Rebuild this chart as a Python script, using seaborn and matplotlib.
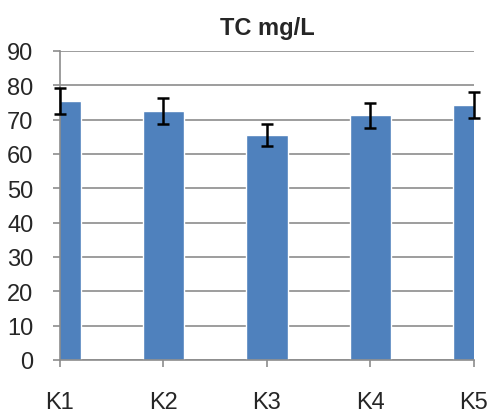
import pandas as pd
import matplotlib.pyplot as plt
import seaborn as sns

# data
groups = ['K1', 'K2', 'K3', 'K4', 'K5']
tc_mean = [75.5, 72.4, 65.5, 71.3, 74.4]
tc_err = [3.8, 3.8, 3.2, 3.6, 3.8]
y_ticks = [0, 10, 20, 30, 40, 50, 60, 70, 80, 90]

df = pd.DataFrame({'group': groups, 'tc': tc_mean, 'err': tc_err})

sns.set_theme(style="white")
plt.rcParams['font.family'] = ['Liberation Sans Narrow', 'Liberation Sans', 'DejaVu Sans']

fig = plt.figure(figsize=(4.89, 4.14), dpi=100)
ax = fig.add_axes([60 / 489, 1 - 361 / 414, 414 / 489, 309 / 414])

sns.barplot(data=df, x='group', y='tc', color='#4F81BD', width=0.4,
            saturation=1, errorbar=None, ax=ax, zorder=2)
ax.errorbar(range(len(groups)), df['tc'], yerr=df['err'], fmt='none',
            ecolor='black', elinewidth=1.8, capsize=4, capthick=1.8,
            clip_on=False, zorder=3)

ax.set_xlim(0, len(groups) - 1)
ax.set_ylim(0, 90)
ax.set_yticks(y_ticks)
ax.yaxis.grid(True, color='#8c8c8c', linewidth=1.2, zorder=0)
ax.set_axisbelow(True)

for side in ['top', 'right']:
    ax.spines[side].set_visible(False)
for side in ['left', 'bottom']:
    ax.spines[side].set_color('#8c8c8c')
    ax.spines[side].set_linewidth(1.2)

ax.tick_params(axis='x', direction='out', length=5, width=1.2,
               color='#8c8c8c', pad=17, labelsize=17, bottom=True)
ax.tick_params(axis='y', direction='out', length=5, width=1.2,
               color='#8c8c8c', pad=14, labelsize=17, left=True)

ax.set_xlabel('')
ax.set_ylabel('')
ax.set_title('TC mg/L', fontsize=17, fontweight='bold', pad=12)

plt.savefig('out.png', dpi=100)
plt.close()
